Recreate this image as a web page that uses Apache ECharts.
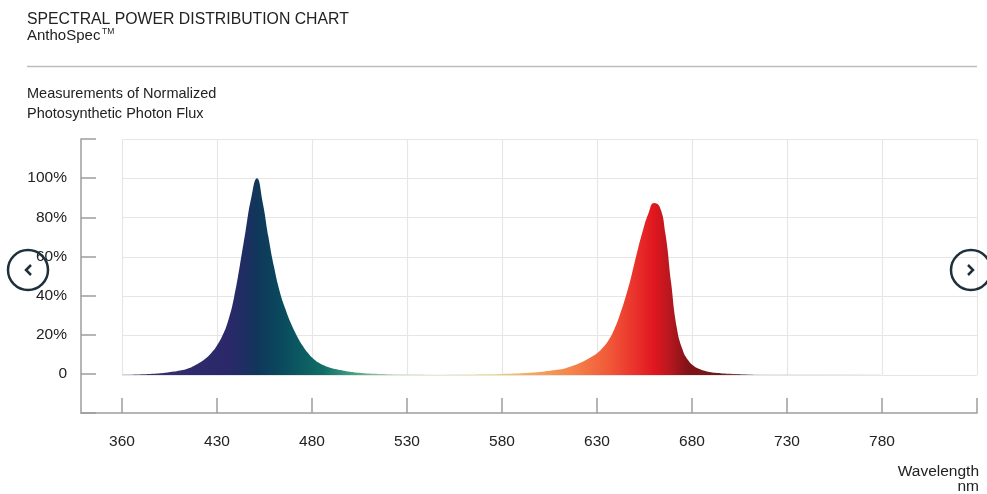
<!DOCTYPE html>
<html>
<head>
<meta charset="utf-8">
<script src="https://cdn.jsdelivr.net/npm/echarts@6/dist/echarts.min.js"></script>
<style>
html, body { margin: 0; padding: 0; background: #fff; }
#main { width: 987px; height: 494px; }
</style>
</head>
<body>
<div id="main"></div>
<script>
// wavelength (nm) and normalized photon flux (%)
var wavelengths = [380, 388, 396, 404, 412, 415, 418, 421, 424, 427, 430, 433, 436, 439, 442, 445, 448, 451, 454, 457, 460, 463, 466, 469, 472, 475, 478, 481, 484, 487, 490, 493, 496, 499,
                   505, 510, 520, 530, 540, 550, 560, 570, 580, 590,
                   600, 603, 606, 609, 612, 615, 618, 621, 624, 627, 630, 633, 636, 639, 642, 645, 648, 651, 654, 657, 660, 663, 666, 669, 672, 675, 678, 681, 684, 687, 690,
                   695, 700, 710, 720, 740, 760, 780, 800];
var flux = [0, 0.2, 0.6, 1.3, 2.5, 3.4, 4.7, 6.3, 8.4, 11.2, 15, 20.3, 28, 39.5, 55.5, 73, 90, 100, 88, 70.5, 55, 42.5, 33.5, 26, 20, 15, 11, 8, 6, 4.6, 3.6, 2.9, 2.3, 1.8,
            1.1, 0.7, 0.35, 0.2, 0.15, 0.15, 0.2, 0.35, 0.55, 0.9,
            1.5, 1.9, 2.3, 2.7, 3.1, 3.9, 4.9, 6.1, 7.5, 9.1, 11, 13.8, 17.5, 23, 30.5, 39.5, 50, 62, 73, 82, 87.5, 85.5, 72, 47, 24, 13, 7.5, 4.6, 3, 2, 1.4,
            0.9, 0.6, 0.3, 0.15, 0.1, 0.08, 0.05, 0];

// tick positions on the wavelength axis and the labels printed under them
var xTickValues = [380, 430, 480, 530, 580, 630, 680, 730, 780];
var xTickLabels = ['360', '430', '480', '530', '580', '630', '680', '730', '780'];
var xEnd = 830;

var myChart = echarts.init(document.getElementById('main'));

var font = '"Liberation Sans", Arial, Helvetica, sans-serif';
var axisGray = '#9d9d9d';
var gridGray = '#e6e6e6';
var ink = '#222';
var btn = '#1e303b';

// spectrum colours along the wavelength
var spectrum = [
    [380, '#44356f'], [420, '#2e2a6c'], [436, '#2a286a'], [446, '#1c2f60'], [452, '#0f385a'],
    [462, '#0a475e'], [474, '#0b5a61'], [486, '#106e66'], [500, '#3f9a80'], [520, '#a3d19c'],
    [550, '#dbe8a4'], [575, '#f1d27a'], [595, '#f5a85c'], [615, '#f5874c'], [635, '#f15c39'],
    [650, '#e9322c'], [660, '#e0171f'], [668, '#b9171f'], [678, '#801316'], [695, '#6a1c1c'],
    [720, '#a0a0a0'], [800, '#cfcfcf']
];
var wMin = wavelengths[0], wMax = wavelengths[wavelengths.length - 1];
var stops = spectrum.map(function (s) {
    return { offset: (s[0] - wMin) / (wMax - wMin), color: s[1] };
});

var seriesData = wavelengths.map(function (w, i) { return [w, flux[i]]; });

option = {
    animation: false,
    grid: [
        // axes frame (offset axes)
        { left: 81, right: 10, top: 139, bottom: 81, outerBoundsMode: 'none' },
        // plotting area with the light grid
        { left: 122, right: 10, top: 139, bottom: 119, outerBoundsMode: 'none' }
    ],
    xAxis: [{
        gridIndex: 0,
        type: 'value',
        min: 358.4,
        max: xEnd,
        axisLine: { show: true, onZero: false, lineStyle: { color: axisGray, width: 1.5 } },
        axisTick: { show: true, inside: true, length: 15, customValues: xTickValues.concat([xEnd]), lineStyle: { color: axisGray, width: 1.5 } },
        axisLabel: {
            customValues: xTickValues,
            margin: 21,
            color: ink,
            fontSize: 15.5,
            fontFamily: font,
            formatter: function (v) {
                var i = xTickValues.indexOf(v);
                return i >= 0 ? xTickLabels[i] : '';
            }
        },
        splitLine: { show: false }
    }, {
        gridIndex: 1,
        type: 'value',
        min: 380,
        max: xEnd,
        interval: 50,
        axisLine: { show: false },
        axisTick: { show: false, customValues: xTickValues.concat([xEnd]) },
        axisLabel: { show: false },
        splitLine: { show: true, lineStyle: { color: gridGray, width: 1.2 } }
    }],
    yAxis: [{
        gridIndex: 0,
        type: 'value',
        min: -20,
        max: 120,
        interval: 20,
        axisLine: { show: true, onZero: false, lineStyle: { color: axisGray, width: 1.5 } },
        axisTick: { show: true, inside: true, length: 15, lineStyle: { color: axisGray, width: 1.5 } },
        axisLabel: {
            margin: 14,
            color: ink,
            fontSize: 15.5,
            fontFamily: font,
            formatter: function (v) {
                if (v === 0) return '0';
                if (v < 0 || v > 100) return '';
                return v + '%';
            }
        },
        splitLine: { show: false }
    }, {
        gridIndex: 1,
        type: 'value',
        min: 0,
        max: 120,
        interval: 20,
        axisLine: { show: false },
        axisTick: { show: false },
        axisLabel: { show: false },
        splitLine: { show: true, lineStyle: { color: gridGray, width: 1.2 } }
    }],
    series: [{
        type: 'line',
        xAxisIndex: 1,
        yAxisIndex: 1,
        data: seriesData,
        smooth: 0.5,
        symbol: 'none',
        silent: true,
        lineStyle: { width: 0 },
        areaStyle: {
            opacity: 1,
            color: new echarts.graphic.LinearGradient(0, 0, 1, 0, stops)
        }
    }],
    graphic: [
        { type: 'text', style: { text: 'SPECTRAL POWER DISTRIBUTION CHART', x: 27, y: 19.5, fill: ink, font: '15.8px ' + font, verticalAlign: 'middle' } },
        { type: 'text', style: { text: 'AnthoSpec', x: 27, y: 36, fill: ink, font: '15px ' + font, verticalAlign: 'middle' } },
        { type: 'text', style: { text: 'TM', x: 102, y: 32, fill: ink, font: '8.5px ' + font, verticalAlign: 'middle' } },
        { type: 'line', shape: { x1: 27, y1: 66.5, x2: 977, y2: 66.5 }, style: { stroke: '#bdbdbd', lineWidth: 1.5 } },
        { type: 'text', style: { text: 'Measurements of Normalized', x: 27, y: 94, fill: ink, font: '14.5px ' + font, verticalAlign: 'middle' } },
        { type: 'text', style: { text: 'Photosynthetic Photon Flux', x: 27, y: 114, fill: ink, font: '14.5px ' + font, verticalAlign: 'middle' } },
        { type: 'text', style: { text: 'Wavelength', x: 979, y: 472, fill: ink, font: '15.5px ' + font, align: 'right', verticalAlign: 'middle' } },
        { type: 'text', style: { text: 'nm', x: 979, y: 487, fill: ink, font: '15.5px ' + font, align: 'right', verticalAlign: 'middle' } },
        // slider buttons
        { type: 'circle', z: 100, shape: { cx: 28, cy: 270, r: 20 }, style: { fill: 'none', stroke: btn, lineWidth: 2.5 } },
        { type: 'polyline', z: 100, shape: { points: [[31, 265], [26, 270], [31, 275]] }, style: { fill: 'none', stroke: btn, lineWidth: 2.5 } },
        { type: 'circle', z: 100, shape: { cx: 971, cy: 270, r: 20 }, style: { fill: 'none', stroke: btn, lineWidth: 2.5 } },
        { type: 'polyline', z: 100, shape: { points: [[968, 265], [973, 270], [968, 275]] }, style: { fill: 'none', stroke: btn, lineWidth: 2.5 } }
    ]
};

myChart.setOption(option);
</script>
</body>
</html>
